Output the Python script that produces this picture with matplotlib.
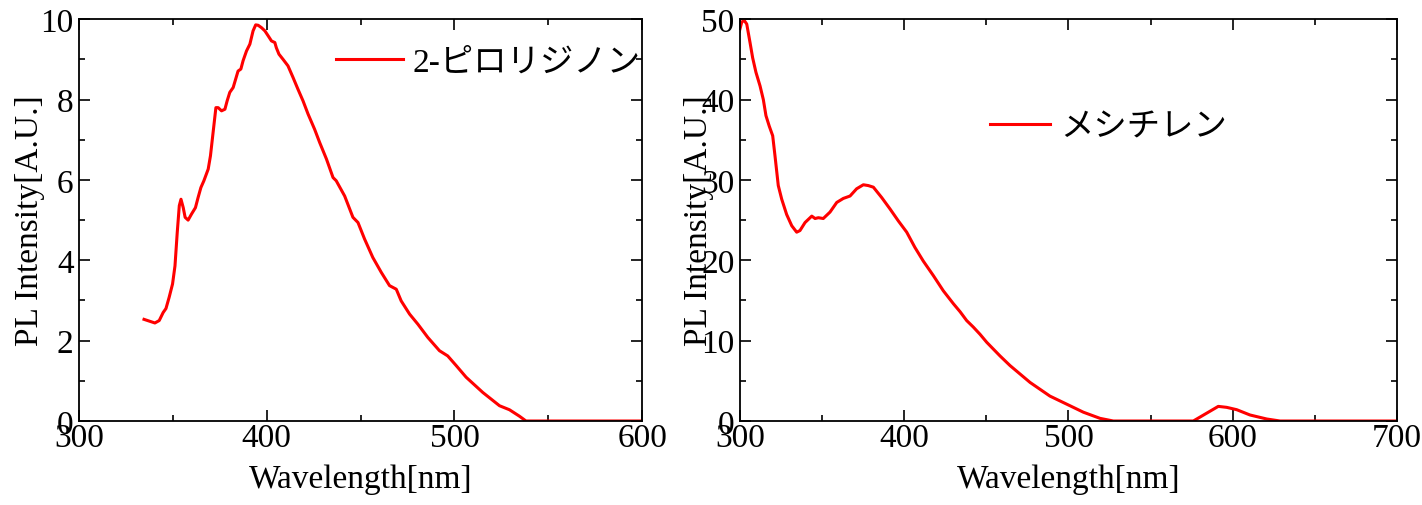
import matplotlib
matplotlib.use("Agg")
import matplotlib.pyplot as plt
from matplotlib.ticker import MultipleLocator

plt.rcParams['font.family'] = ['Liberation Serif', 'Noto Sans CJK JP']
plt.rcParams['font.size'] = 24

# 2-ピロリジノン spectrum
wl_pyr = [334.6, 340.4, 342.7, 344.8, 346.3, 348.0, 349.8, 351.1, 352.3, 353.4,
          354.3, 355.5, 356.5, 358.1, 359.9, 362.0, 363.4, 364.9, 366.5, 368.8,
          370.0, 371.4, 372.9, 374.1, 375.9, 377.7, 378.9, 380.3, 382.1, 384.7,
          386.2, 387.4, 389.2, 391.0, 392.7, 394.1, 395.4, 397.2, 399.0, 400.7,
          402.5, 404.3, 405.1, 406.5, 408.7, 411.3, 414.0, 416.6, 419.3, 422.0,
          425.5, 428.2, 431.8, 435.3, 437.0, 441.5, 445.9, 448.6, 452.1, 456.5,
          461.0, 465.4, 469.0, 471.6, 476.1, 480.5, 485.8, 492.0, 496.4, 500.9,
          506.2, 515.1, 524.0, 529.3, 534.6, 538.1, 600.0]
pl_pyr = [2.53, 2.44, 2.50, 2.70, 2.80, 3.08, 3.41, 3.86, 4.69, 5.36,
          5.52, 5.31, 5.07, 5.00, 5.15, 5.31, 5.56, 5.81, 5.98, 6.27,
          6.60, 7.18, 7.80, 7.80, 7.72, 7.76, 7.97, 8.18, 8.30, 8.71,
          8.76, 8.97, 9.21, 9.38, 9.71, 9.86, 9.85, 9.79, 9.71, 9.59,
          9.46, 9.42, 9.29, 9.13, 9.00, 8.84, 8.55, 8.26, 7.97, 7.64,
          7.26, 6.93, 6.52, 6.06, 5.98, 5.60, 5.07, 4.94, 4.53, 4.07,
          3.70, 3.37, 3.28, 2.99, 2.66, 2.41, 2.08, 1.75, 1.62, 1.38,
          1.09, 0.71, 0.38, 0.28, 0.12, 0.0, 0.0]

# メシチレン spectrum
wl_mes = [299.6, 301.0, 302.4, 304.1, 306.1, 307.7, 309.7, 312.2, 314.2, 315.8,
          317.8, 319.9, 321.3, 323.3, 325.4, 328.4, 331.5, 334.5, 336.5, 339.6,
          343.7, 345.7, 347.7, 350.7, 354.8, 358.9, 362.9, 367.0, 371.0, 375.1,
          378.1, 381.2, 386.3, 391.3, 396.4, 401.5, 406.5, 411.6, 417.7, 423.8,
          429.9, 434.0, 438.0, 442.0, 446.1, 450.2, 458.3, 464.4, 476.6, 488.7,
          500.9, 509.0, 519.2, 527.3, 576.0, 591.2, 596.3, 602.4, 610.5, 620.7,
          628.8, 700.0]
pl_mes = [48.5, 49.6, 49.9, 49.4, 47.1, 45.2, 43.4, 41.7, 40.0, 38.0,
          36.7, 35.5, 33.0, 29.3, 27.6, 25.7, 24.3, 23.5, 23.7, 24.7,
          25.5, 25.2, 25.3, 25.2, 26.0, 27.2, 27.7, 28.0, 28.9, 29.4,
          29.3, 29.1, 27.8, 26.4, 24.9, 23.5, 21.6, 19.9, 18.1, 16.2,
          14.6, 13.6, 12.5, 11.7, 10.8, 9.8, 8.1, 6.9, 4.8, 3.1,
          1.9, 1.1, 0.33, 0.0, 0.0, 1.82, 1.70, 1.41, 0.75, 0.25,
          0.0, 0.0]

fig = plt.figure(figsize=(14.22, 5.06), dpi=100)
ax1 = fig.add_axes([0.0556, 0.166, 0.396, 0.794])
ax2 = fig.add_axes([0.5204, 0.166, 0.462, 0.794])

ax1.plot(wl_pyr, pl_pyr, color='#ff0000', lw=2.2, label='2-ピロリジノン')
ax2.plot(wl_mes, pl_mes, color='#ff0000', lw=2.2, label='メシチレン')

ax1.set_xlim(300, 600)
ax1.set_ylim(0, 10)
ax1.xaxis.set_major_locator(MultipleLocator(100))
ax1.xaxis.set_minor_locator(MultipleLocator(50))
ax1.yaxis.set_major_locator(MultipleLocator(2))
ax1.yaxis.set_minor_locator(MultipleLocator(1))

ax2.set_xlim(300, 700)
ax2.set_ylim(0, 50)
ax2.xaxis.set_major_locator(MultipleLocator(100))
ax2.xaxis.set_minor_locator(MultipleLocator(50))
ax2.yaxis.set_major_locator(MultipleLocator(10))
ax2.yaxis.set_minor_locator(MultipleLocator(5))

for ax in (ax1, ax2):
    for s in ax.spines.values():
        s.set_linewidth(1.3)
    ax.tick_params(which='both', direction='in', top=True, right=True,
                   width=1.2, labelsize=24)
    ax.tick_params(which='major', length=8)
    ax.tick_params(which='minor', length=4)
    ax.tick_params(axis='x', pad=1)
    ax.tick_params(axis='y', pad=4)
    ax.set_xlabel('Wavelength[nm]', fontsize=24)
    ax.set_ylabel('PL Intensity[A.U.]', fontsize=24)
    ax.xaxis.set_label_coords(0.5, -0.105)

ax1.yaxis.set_label_coords(-0.060, 0.5)
ax2.yaxis.set_label_coords(-0.040, 0.5)

ax1.legend(loc='center left', bbox_to_anchor=(0.4565, 0.893), frameon=False,
           borderpad=0, borderaxespad=0, handlelength=2.0, handletextpad=0.3,
           fontsize=24)
ax2.legend(loc='center left', bbox_to_anchor=(0.3805, 0.731), frameon=False,
           borderpad=0, borderaxespad=0, handlelength=1.8, handletextpad=0.3,
           fontsize=24)

fig.savefig('out.png', dpi=100)
